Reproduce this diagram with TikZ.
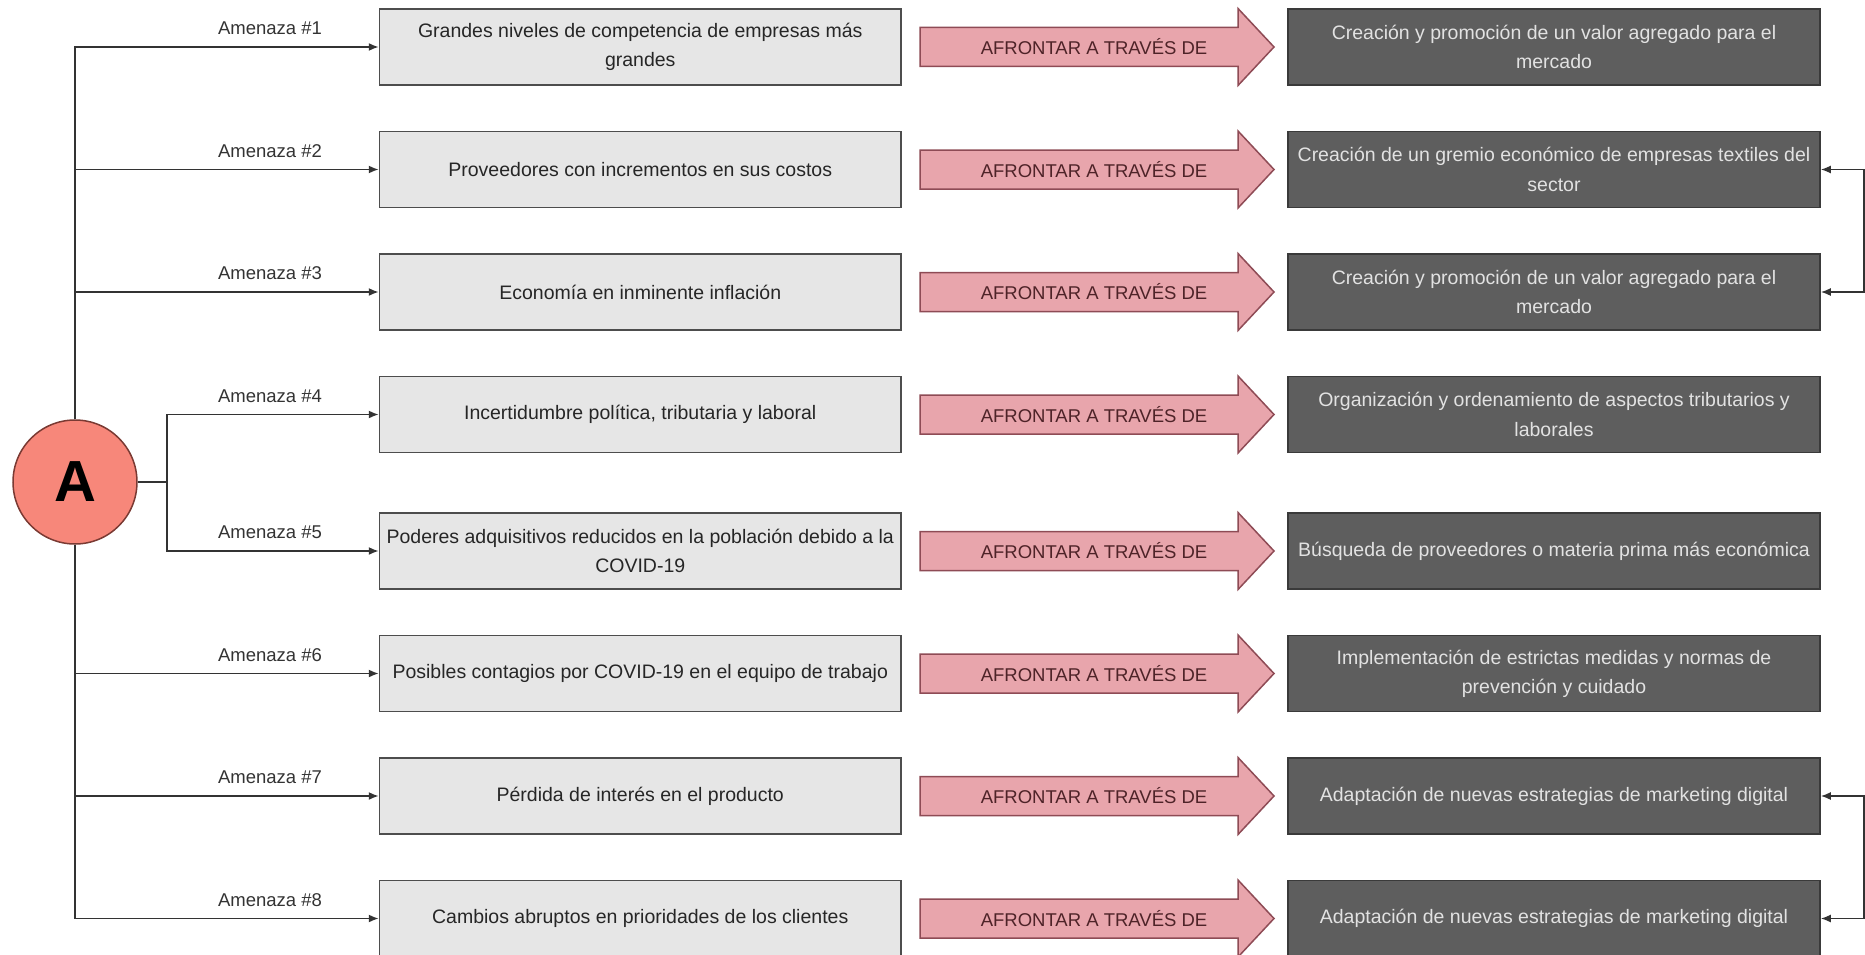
\documentclass[tikz,border=0pt]{standalone}
\usepackage{fontspec}
\setmainfont{Liberation Sans}
\usetikzlibrary{arrows.meta}
\definecolor{threatfill}{HTML}{E6E6E6}
\definecolor{threatdraw}{HTML}{4D4D4D}
\definecolor{actionfill}{HTML}{5E5E5E}
\definecolor{actiondraw}{HTML}{3A3A3A}
\definecolor{actiontext}{HTML}{E2E2E2}
\definecolor{arrowfill}{HTML}{E8A5AC}
\definecolor{arrowdraw}{HTML}{8E4B55}
\definecolor{arrowtext}{HTML}{4E2328}
\definecolor{circfill}{HTML}{F7877A}
\definecolor{circdraw}{HTML}{7A3A33}
\definecolor{linkgray}{HTML}{333333}
\begin{document}
\begin{tikzpicture}[x=1pt,y=-1pt,>={Latex[length=10pt,width=8pt]},
  threat/.style={draw=threatdraw,fill=threatfill,line width=1.5pt,minimum width=521.5pt,minimum height=76pt,
    text width=510pt,align=flush center,inner sep=0pt,font=\fontsize{19.5}{29.3}\selectfont,text=black!85},
  action/.style={draw=actiondraw,fill=actionfill,line width=1.5pt,minimum width=532pt,minimum height=76pt,
    text width=518pt,align=flush center,inner sep=0pt,font=\fontsize{19.5}{29.3}\selectfont,text=actiontext},
  tag/.style={font=\fontsize{18.5}{20}\selectfont,text=black!80},
  link/.style={draw=linkgray,line width=1.6pt,->},
  through/.style={draw=arrowdraw,fill=arrowfill,line width=1.5pt}]
\useasboundingbox (0,0) rectangle (1865,955);
% centre
\node[circle,draw=circdraw,fill=circfill,line width=1.5pt,minimum size=124pt,inner sep=0pt,
  font=\fontsize{58}{60}\selectfont\bfseries] (A) at (75,482) {A};
% amenazas
\node[threat] (t1) at (640.25,47) {Grandes niveles de competencia de empresas más grandes};
\node[threat] (t2) at (640.25,169.5) {Proveedores con incrementos en sus costos};
\node[threat] (t3) at (640.25,292) {Economía en inminente inflación};
\node[threat] (t4) at (640.25,414.5) {Incertidumbre política, tributaria y laboral};
\node[threat] (t5) at (640.25,551) {Poderes adquisitivos reducidos en la población debido a la COVID-19};
\node[threat] (t6) at (640.25,673.5) {Posibles contagios por COVID-19 en el equipo de trabajo};
\node[threat] (t7) at (640.25,796) {Pérdida de interés en el producto};
\node[threat] (t8) at (640.25,918.5) {Cambios abruptos en prioridades de los clientes};
% respuestas
\node[action] (r1) at (1554,47) {Creación y promoción de un valor agregado para el mercado};
\node[action] (r2) at (1554,169.5) {Creación de un gremio económico de empresas textiles del sector};
\node[action] (r3) at (1554,292) {Creación y promoción de un valor agregado para el mercado};
\node[action] (r4) at (1554,414.5) {Organización y ordenamiento de aspectos tributarios y laborales};
\node[action] (r5) at (1554,551) {Búsqueda de proveedores o materia prima más económica};
\node[action] (r6) at (1554,673.5) {Implementación de estrictas medidas y normas de prevención y cuidado};
\node[action] (r7) at (1554,796) {Adaptación de nuevas estrategias de marketing digital};
\node[action] (r8) at (1554,918.5) {Adaptación de nuevas estrategias de marketing digital};
% flechas
\foreach \y/\n in {47/1,169.5/2,292/3,414.5/4,551/5,673.5/6,796/7,918.5/8}{
  \draw[through] (920,\y-19.5) -- (1238,\y-19.5) -- (1238,\y-38.5) -- (1274,\y)
    -- (1238,\y+38.5) -- (1238,\y+19.5) -- (920,\y+19.5) -- cycle;
  \node[font=\fontsize{18.5}{20}\selectfont,text=arrowtext] (f\n) at (1094,\y) {AFRONTAR A TRAVÉS DE};
  \node[tag] (a\n) at (270,\y-18.5) {Amenaza \#\n};
}
% conexiones
\draw[link] (A.north) |- (t1.west);
\draw[link] (A.north) |- (t2.west);
\draw[link] (A.north) |- (t3.west);
\draw[link] (A.east) -- ++(29,0) |- (t4.west);
\draw[link] (A.east) -- ++(29,0) |- (t5.west);
\draw[link] (A.south) |- (t6.west);
\draw[link] (A.south) |- (t7.west);
\draw[link] (A.south) |- (t8.west);
\draw[link,<->] (r2.east) -- ++(43,0) |- (r3.east);
\draw[link,<->] (r7.east) -- ++(43,0) |- (r8.east);
\end{tikzpicture}
\end{document}
